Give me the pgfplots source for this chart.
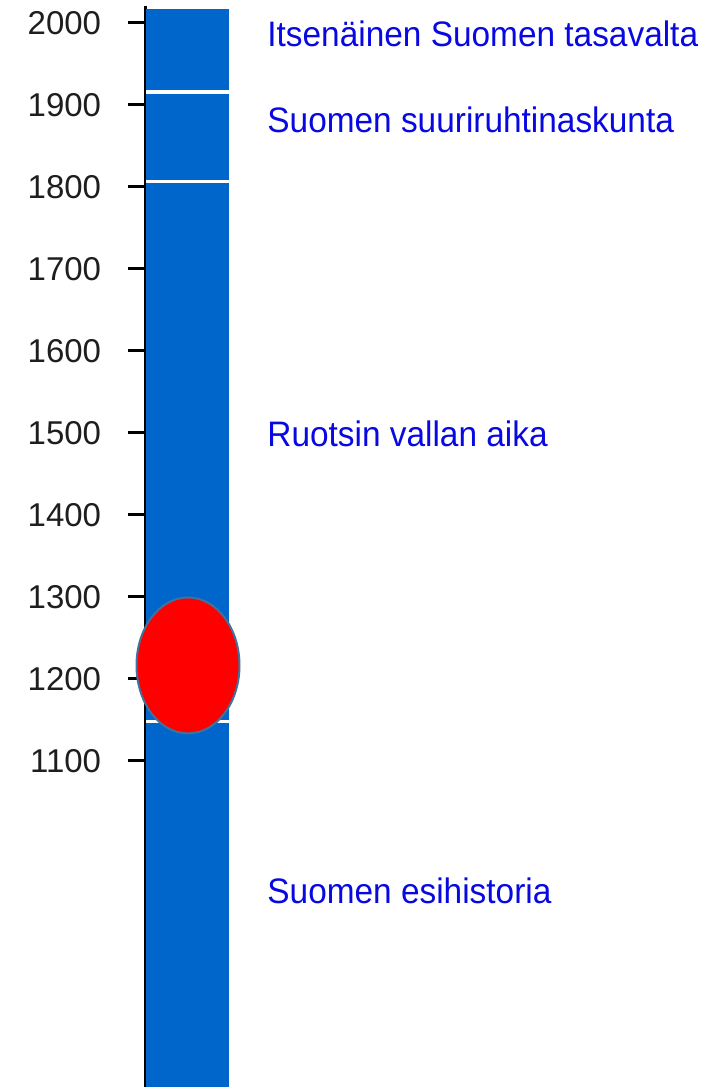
\documentclass[border=0pt]{standalone}
\usepackage{pgfplots}
\pgfplotsset{compat=1.18}
\usepackage{fontspec}
\setmainfont{Liberation Sans}
\definecolor{barblue}{RGB}{0,102,204}
\definecolor{labelblue}{RGB}{8,8,225}
\definecolor{rimblue}{RGB}{65,113,156}
\definecolor{tickgray}{RGB}{30,30,30}
\begin{document}
\begin{tikzpicture}
\path[use as bounding box] (0,0) rectangle (362.5pt,543.5pt);
\begin{axis}[
  at={(72.75pt,0pt)}, anchor=south west,
  scale only axis, width=41.75pt, height=540.5pt,
  xmin=145.5, xmax=229, ymin=702.4, ymax=2020.7,
  axis x line=none, axis y line=left,
  y axis line style={-, line width=1.5pt, black},
  ytick={1100,1200,...,2000},
  tick align=outside, major tick length=8.5pt,
  ytick style={line width=1.5pt, black},
  yticklabel style={font=\fontsize{16.5pt}{18pt}\selectfont, text=tickgray, anchor=east, inner sep=0pt, xshift=-13.5pt},
  /pgf/number format/assume math mode=true,
  yticklabel={\pgfmathprintnumber[precision=0,1000 sep={}]{\tick}},
  clip=false,
]
% the blue time bar
\addplot[fill=barblue, draw=none] coordinates {(146.5,702.4) (229,702.4) (229,2017.1) (146.5,2017.1)} -- cycle;
% era boundaries
\addplot[white, line width=1.7pt] coordinates {(146.5,1916) (229,1916)};
\addplot[white, line width=1.7pt] coordinates {(146.5,1807) (229,1807)};
\addplot[white, line width=1.7pt] coordinates {(146.5,1148) (229,1148)};
% red marker
\addplot[only marks, mark=*, mark size=25.75pt,
  mark options={fill=red, draw=rimblue, line width=1pt, yscale=1.32}]
  coordinates {(188,1216.5)};
% era labels
\node[anchor=base west, inner sep=0pt, text=labelblue, font=\fontsize{16.7pt}{18pt}\selectfont, yscale=1.06] at (axis cs:267,1970.7) {Itsenäinen Suomen tasavalta};
\node[anchor=base west, inner sep=0pt, text=labelblue, font=\fontsize{16.7pt}{18pt}\selectfont, yscale=1.06] at (axis cs:267,1865.9) {Suomen suuriruhtinaskunta};
\node[anchor=base west, inner sep=0pt, text=labelblue, font=\fontsize{16.7pt}{18pt}\selectfont, yscale=1.06] at (axis cs:267,1482.9) {Ruotsin vallan aika};
\node[anchor=base west, inner sep=0pt, text=labelblue, font=\fontsize{16.7pt}{18pt}\selectfont, yscale=1.06] at (axis cs:267,925.6) {Suomen esihistoria};
\end{axis}
\end{tikzpicture}
\end{document}
